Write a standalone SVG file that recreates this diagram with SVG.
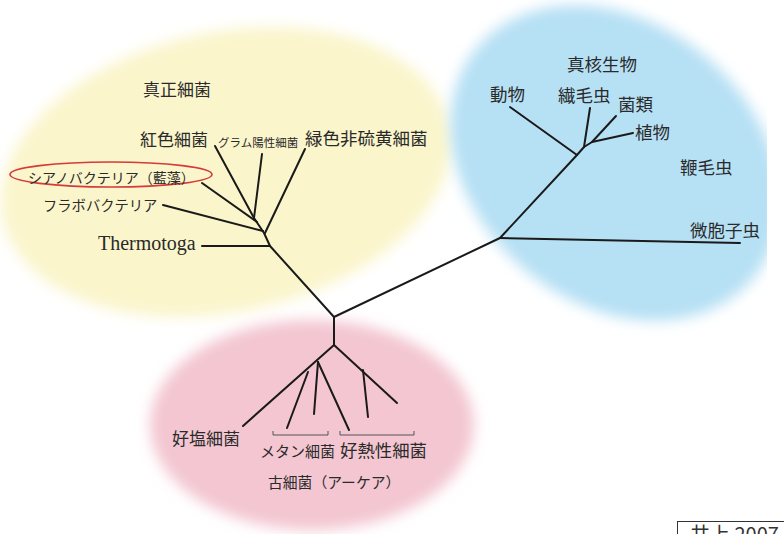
<svg xmlns="http://www.w3.org/2000/svg" width="784" height="534" viewBox="0 0 784 534">
<defs>
<filter id="soft" x="-20%" y="-20%" width="140%" height="140%"><feGaussianBlur stdDeviation="7"/></filter>
<clipPath id="clipR"><rect x="0" y="0" width="767" height="534"/></clipPath>
<style>
.jp{font-family:"Noto Sans CJK JP","Noto Sans CJK SC",sans-serif;fill:#2a2a2a}
.en{font-family:"Liberation Serif",serif;fill:#2a2a2a}
.br{stroke:#1a1a1a;stroke-width:2;fill:none;stroke-linecap:round;stroke-linejoin:round}
.bk{stroke:#555;stroke-width:1;fill:none}
</style>
</defs>
<rect width="784" height="534" fill="#ffffff"/>
<g id="regions">
<ellipse cx="226" cy="172" rx="228" ry="140" transform="rotate(-12 226 172)" fill="#faf5cb" filter="url(#soft)"/>
<g clip-path="url(#clipR)">
<ellipse cx="615" cy="163" rx="180" ry="140" transform="rotate(40 615 163)" fill="#b6e0f4" filter="url(#soft)"/>
</g>
<ellipse cx="312" cy="425" rx="162" ry="105" fill="#f3c6d1" filter="url(#soft)"/>
</g>
<g id="connectors">
<polyline class="br" points="254,218 264,233 270,246 334,317 500,238 577,155 584,147 592,142"/>
<line class="br" x1="215" y1="146" x2="254" y2="218"/>
<line class="br" x1="262" y1="154" x2="254" y2="218"/>
<line class="br" x1="202" y1="183" x2="257" y2="222"/>
<line class="br" x1="163" y1="205" x2="263" y2="231"/>
<line class="br" x1="305" y1="149" x2="265" y2="233"/>
<line class="br" x1="202" y1="246" x2="270" y2="246"/>
<line class="br" x1="510" y1="107" x2="577" y2="155"/>
<line class="br" x1="590" y1="108" x2="584" y2="147"/>
<line class="br" x1="616" y1="116" x2="592" y2="142"/>
<line class="br" x1="633" y1="133" x2="592" y2="142"/>
<line class="br" x1="500" y1="238" x2="740" y2="243"/>
<polyline class="br" points="334,317 334,345 243,426"/>
<line class="br" x1="308" y1="372" x2="287" y2="428"/>
<line class="br" x1="318" y1="362" x2="314" y2="414"/>
<line class="br" x1="318" y1="362" x2="349" y2="430"/>
<line class="br" x1="334" y1="345" x2="397" y2="403"/>
<line class="br" x1="363" y1="370" x2="368" y2="417"/>
<polyline class="bk" points="273,431 273,435 328,435 328,431"/>
<polyline class="bk" points="340,431 340,435 414,435 414,431"/>
</g>
<g id="bacteria">
<text class="jp" x="143" y="95.5" font-size="17">真正細菌</text>
<g id="n-kouhoku"><text class="jp" x="140" y="145.5" font-size="17">紅色細菌</text></g>
<g id="n-gram"><text class="jp" x="218" y="147" font-size="11.5">グラム陽性細菌</text></g>
<g id="n-ryoku"><text class="jp" x="305" y="145" font-size="17.5">緑色非硫黄細菌</text></g>
<g id="n-cyano">
<ellipse cx="111" cy="174.5" rx="101" ry="12.5" fill="none" stroke="#d63a3a" stroke-width="1.6"/>
<text class="jp" x="28" y="183" font-size="14">シアノバクテリア（藍藻）</text>
</g>
<g id="n-flavo"><text class="jp" x="43" y="210.5" font-size="14.3">フラボバクテリア</text></g>
<g id="n-thermo"><text class="en" x="98" y="250" font-size="20">Thermotoga</text></g>
</g>
<g id="eukarya">
<text class="jp" x="567" y="70.5" font-size="17.5">真核生物</text>
<g id="n-doubutsu"><text class="jp" x="490" y="100.5" font-size="17.5">動物</text></g>
<g id="n-senmou"><text class="jp" x="558" y="101.5" font-size="17.5">繊毛虫</text></g>
<g id="n-kinrui"><text class="jp" x="618" y="111" font-size="17.5">菌類</text></g>
<g id="n-shokubutsu"><text class="jp" x="635" y="138.5" font-size="17.5">植物</text></g>
<g id="n-benmou"><text class="jp" x="680" y="173.5" font-size="17.5">鞭毛虫</text></g>
<g id="n-bikoushi"><text class="jp" x="690" y="236.5" font-size="17.5">微胞子虫</text></g>
</g>
<g id="archaea">
<g id="n-koen"><text class="jp" x="172" y="445" font-size="17">好塩細菌</text></g>
<g id="n-methane"><text class="jp" x="260" y="456.5" font-size="15">メタン細菌</text></g>
<g id="n-kounetsu"><text class="jp" x="340" y="456.5" font-size="17.4">好熱性細菌</text></g>
<text class="jp" x="268" y="488" font-size="14.8">古細菌（アーケア）</text>
</g>
<g id="source">
<rect x="677.5" y="521.5" width="140" height="40" fill="#ffffff" stroke="#333" stroke-width="1"/>
<text x="690" y="542" font-size="20" font-family="Noto Sans CJK JP, sans-serif" fill="#333">井上 2007</text>
</g>
</svg>
